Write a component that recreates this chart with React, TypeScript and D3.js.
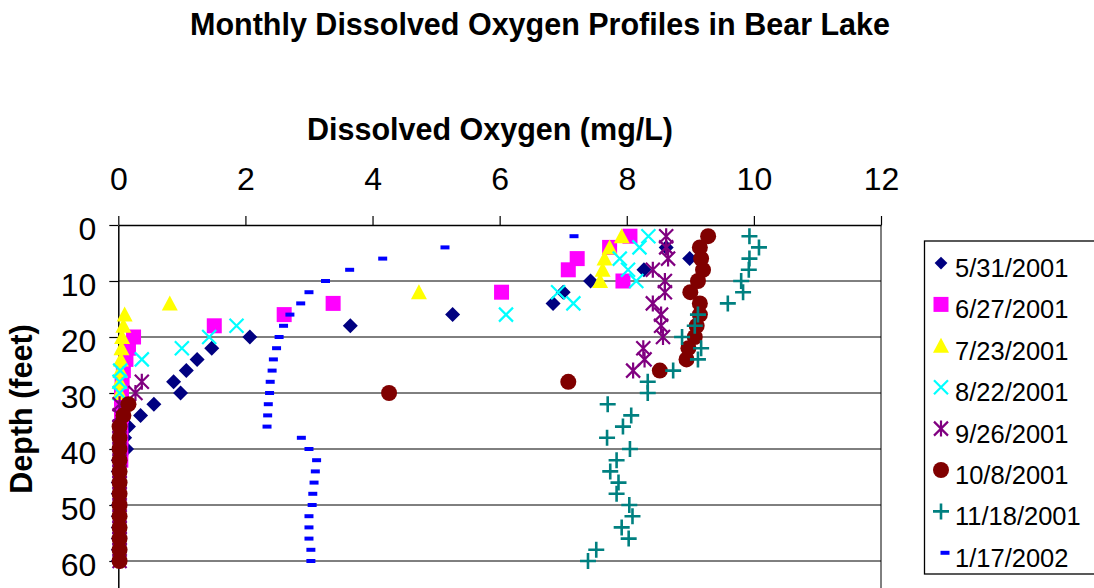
import React, { useEffect, useRef } from 'react';
import * as d3 from 'd3';

// depth (feet) lists for each sampling date
const depthMay = [4, 6, 8, 10, 12, 14, 16, 18, 20, 22, 24, 26, 28, 30, 32, 34, 36, 38, 40, 42, 44, 46, 48, 50, 52, 54, 56, 58, 60];
const depthJun = [2, 4, 6, 8, 10, 12, 14, 16, 18, 20, 22, 24, 26, 28, 30, 32, 34, 36, 38, 40, 42];
const depthJulAug = [2, 4, 6, 8, 10, 12, 14, 16, 18, 20, 22, 24, 26, 28, 30];
const depthFull = [2, 4, 6, 8, 10, 12, 14, 16, 18, 20, 22, 24, 26, 28, 30, 32, 34, 36, 38, 40, 42, 44, 46, 48, 50, 52, 54, 56, 58, 60];

// dissolved oxygen (mg/L)
const doMay31 = [8.62, 8.99, 8.27, 7.43, 7.0, 6.84, 5.26, 3.65, 2.07, 1.47, 1.24, 1.07, 0.87, 0.98, 0.56, 0.35, 0.16, 0.1, 0.13, 0.0, 0.0, 0.0, 0.0, 0.0, 0.0, 0.0, 0.0, 0.0, 0.0];
const doJun27 = [8.05, 7.73, 7.22, 7.08, 7.94, 6.03, 3.38, 2.61, 1.51, 0.24, 0.16, 0.12, 0.08, 0.06, 0.05, 0.05, 0.05, 0.04, 0.04, 0.04, 0.04];
const doJul23 = [7.92, 7.73, 7.65, 7.62, 7.58, 4.73, 0.81, 0.1, 0.08, 0.06, 0.05, 0.04, 0.03, 0.02, 0.02];
const doAug22 = [8.34, 8.2, 7.89, 8.02, 8.15, 6.92, 7.16, 6.1, 1.86, 1.43, 1.0, 0.37, 0.03, 0.02, 0.02];
const doSep26 = [8.62, 8.62, 8.65, 8.41, 8.6, 8.6, 8.41, 8.54, 8.54, 8.57, 8.26, 8.28, 8.1, 0.37, 0.27, 0.02, 0.02, 0.02, 0.02, 0.02, 0.02, 0.02, 0.02, 0.02, 0.02, 0.02, 0.02, 0.02, 0.02, 0.02];
const doOct8 = [9.28, 9.15, 9.17, 9.2, 9.12, 9.0, 9.15, 9.15, 9.1, 9.07, 8.97, 8.94, 8.52, 7.08, 4.26, 0.16, 0.08, 0.02, 0.02, 0.02, 0.02, 0.02, 0.02, 0.02, 0.02, 0.02, 0.02, 0.02, 0.02, 0.02];
const doNov18 = [9.93, 10.08, 9.93, 9.92, 9.8, 9.83, 9.59, 9.12, 9.07, 8.87, 9.17, 9.12, 8.73, 8.33, 8.33, 7.7, 8.07, 7.94, 7.69, 8.05, 7.84, 7.74, 7.87, 7.84, 8.04, 8.09, 7.92, 8.03, 7.52, 7.39];
const doJan17 = [7.17, 5.14, 4.16, 3.64, 3.26, 3.0, 2.87, 2.7, 2.6, 2.53, 2.49, 2.44, 2.42, 2.39, 2.38, 2.36, 2.35, 2.34, 2.88, 3.0, 3.12, 3.1, 3.08, 3.06, 3.05, 3.0, 3.0, 3.0, 3.03, 3.03];

const seriesLabels = ['5/31/2001', '6/27/2001', '7/23/2001', '8/22/2001', '9/26/2001', '10/8/2001', '11/18/2001', '1/17/2002'];
const xTicks = [0, 2, 4, 6, 8, 10, 12];
const yTicks = [0, 10, 20, 30, 40, 50, 60];

const FONT = '"Liberation Sans", Arial, Helvetica, sans-serif';

type Shape = 'diamond' | 'square' | 'triangle' | 'x' | 'star' | 'circle' | 'plus' | 'dash';

const series: { label: string; depth: number[]; values: number[]; shape: Shape; color: string }[] = [
    { label: seriesLabels[0], depth: depthMay, values: doMay31, shape: 'diamond', color: '#000080' },
    { label: seriesLabels[1], depth: depthJun, values: doJun27, shape: 'square', color: '#FF00FF' },
    { label: seriesLabels[2], depth: depthJulAug, values: doJul23, shape: 'triangle', color: '#FFFF00' },
    { label: seriesLabels[3], depth: depthJulAug, values: doAug22, shape: 'x', color: '#00FFFF' },
    { label: seriesLabels[4], depth: depthFull, values: doSep26, shape: 'star', color: '#800080' },
    { label: seriesLabels[5], depth: depthFull, values: doOct8, shape: 'circle', color: '#800000' },
    { label: seriesLabels[6], depth: depthFull, values: doNov18, shape: 'plus', color: '#008080' },
    { label: seriesLabels[7], depth: depthFull, values: doJan17, shape: 'dash', color: '#0000FF' },
];

// marker outline centred on 0,0
const markerPath = (shape: Shape, k = 1) => {
    const h = 7.5 * k;
    switch (shape) {
        case 'diamond':
            return `M0,${-h}L${h},0L0,${h}L${-h},0Z`;
        case 'square':
            return `M${-h},${-h}H${h}V${h}H${-h}Z`;
        case 'triangle':
            return `M0,${-8 * k}L${8 * k},${7 * k}L${-8 * k},${7 * k}Z`;
        case 'x':
            return `M${-7 * k},${-7 * k}L${7 * k},${7 * k}M${7 * k},${-7 * k}L${-7 * k},${7 * k}`;
        case 'star':
            return `M${-7 * k},${-7 * k}L${7 * k},${7 * k}M${7 * k},${-7 * k}L${-7 * k},${7 * k}M0,${-8 * k}V${8 * k}`;
        case 'plus':
            return `M${-8 * k},0H${8 * k}M0,${-8 * k}V${8 * k}`;
        case 'dash':
            return `M${-4.5 * k},${-2 * k}H${4.5 * k}V${2 * k}H${-4.5 * k}Z`;
        case 'circle':
        default:
            return d3.symbol().type(d3.symbolCircle).size(Math.PI * 64 * k * k)() || '';
    }
};

const isStroked = (s: Shape) => s === 'x' || s === 'star' || s === 'plus';

const App = () => {
    const svgRef = useRef<SVGSVGElement>(null);

    useEffect(() => {
        const svg = d3.select(svgRef.current);
        svg.selectAll('*').remove();

        const width = 1094;
        const height = 588;
        const plot = { left: 118.3, right: 881, top: 225, bottom: 617 };

        svg.attr('width', width).attr('height', height);

        const x = d3.scaleLinear().domain([0, 12]).range([plot.left, plot.right]);
        const y = d3.scaleLinear().domain([0, 70]).range([plot.top, plot.bottom]);

        svg.append('rect').attr('width', width).attr('height', height).attr('fill', '#fff');

        // Title
        svg.append('text')
            .attr('x', 540)
            .attr('y', 35)
            .attr('text-anchor', 'middle')
            .style('font-family', FONT)
            .style('font-weight', 'bold')
            .style('font-size', '30.5px')
            .text('Monthly Dissolved Oxygen Profiles in Bear Lake');

        svg.append('text')
            .attr('x', 490)
            .attr('y', 140)
            .attr('text-anchor', 'middle')
            .style('font-family', FONT)
            .style('font-weight', 'bold')
            .style('font-size', '30.5px')
            .text('Dissolved Oxygen (mg/L)');

        svg.append('text')
            .attr('transform', 'translate(32,409) rotate(-90)')
            .attr('text-anchor', 'middle')
            .style('font-family', FONT)
            .style('font-weight', 'bold')
            .style('font-size', '30.5px')
            .text('Depth (feet)');

        // Horizontal gridlines
        svg.append('g')
            .selectAll('line')
            .data(yTicks.filter(d => d > 0))
            .enter()
            .append('line')
            .attr('x1', plot.left)
            .attr('x2', plot.right)
            .attr('y1', d => y(d))
            .attr('y2', d => y(d))
            .attr('stroke', '#000')
            .attr('stroke-width', 1);

        // Plot border on the right
        svg.append('line')
            .attr('x1', plot.right).attr('x2', plot.right)
            .attr('y1', plot.top).attr('y2', plot.bottom)
            .attr('stroke', '#000').attr('stroke-width', 1);

        // Top x axis
        const xAxis = d3.axisTop(x).tickValues(xTicks).tickSize(9).tickSizeOuter(0).tickPadding(26);
        const gx = svg.append('g').attr('transform', `translate(0,${plot.top})`).call(xAxis);
        gx.select('.domain').attr('stroke', '#000').attr('stroke-width', 1.5);
        gx.selectAll('.tick line').attr('stroke', '#000').attr('stroke-width', 1.2);
        gx.selectAll('.tick text')
            .style('font-family', FONT)
            .style('font-size', '32px')
            .attr('fill', '#000');

        // Left y axis
        const yAxis = d3.axisLeft(y).tickValues(yTicks).tickSize(9).tickSizeOuter(0).tickPadding(13);
        const gy = svg.append('g').attr('transform', `translate(${plot.left},0)`).call(yAxis);
        gy.select('.domain').attr('stroke', '#000').attr('stroke-width', 1.5);
        gy.selectAll('.tick line').attr('stroke', '#000').attr('stroke-width', 1.2);
        gy.selectAll('.tick text')
            .style('font-family', FONT)
            .style('font-size', '32px')
            .attr('fill', '#000')
            .attr('dy', '0.45em');

        // Points, series drawn in order so later dates sit on top
        series.forEach(s => {
            const pts = s.values.map((v, i) => ({ v, d: s.depth[i] }));
            svg.append('g')
                .selectAll('path')
                .data(pts)
                .enter()
                .append('path')
                .attr('transform', p => `translate(${x(p.v)},${y(p.d)})`)
                .attr('d', markerPath(s.shape))
                .attr('fill', isStroked(s.shape) ? 'none' : s.color)
                .attr('stroke', isStroked(s.shape) ? s.color : 'none')
                .attr('stroke-width', s.shape === 'plus' ? 2.6 : 2.2);
        });

        // Legend
        const legend = svg.append('g');
        legend.append('rect')
            .attr('x', 924.5)
            .attr('y', 241)
            .attr('width', 200)
            .attr('height', 333)
            .attr('fill', '#fff')
            .attr('stroke', '#000')
            .attr('stroke-width', 1.3);

        series.forEach((s, i) => {
            const base = 277 + i * 41.4;
            legend.append('path')
                .attr('transform', `translate(${s.shape === 'dash' ? 945 : 941},${base - 14})`)
                .attr('d', markerPath(s.shape, s.shape === 'diamond' ? 0.85 : 1))
                .attr('fill', isStroked(s.shape) ? 'none' : s.color)
                .attr('stroke', isStroked(s.shape) ? s.color : 'none')
                .attr('stroke-width', s.shape === 'plus' ? 2.6 : 2.2);
            legend.append('text')
                .attr('x', 955)
                .attr('y', base)
                .style('font-family', FONT)
                .style('font-size', '25.5px')
                .attr('fill', '#000')
                .text(s.label);
        });
    }, []);

    return <svg ref={svgRef} style={{ position: 'absolute', left: 0, top: 0, display: 'block' }}></svg>;
};

export default App;
